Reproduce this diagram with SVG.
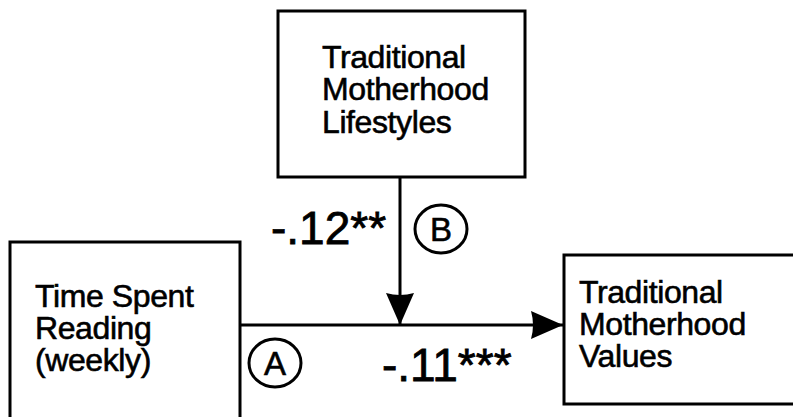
<svg xmlns="http://www.w3.org/2000/svg" width="793" height="417" viewBox="0 0 793 417">
  <style>
    .box { fill: #ffffff; stroke: #000000; stroke-width: 3; }
    .lbl { font-family: "Liberation Sans", Arial, sans-serif; font-size: 32px; letter-spacing: -0.4px; fill: #000000; stroke: #000000; stroke-width: 0.6; }
    .coef { font-family: "Liberation Sans", Arial, sans-serif; font-size: 46px; fill: #000000; stroke: #000000; stroke-width: 0.8; }
    .tag { font-family: "Liberation Sans", Arial, sans-serif; font-size: 33px; fill: #000000; stroke: #000000; stroke-width: 0.6; text-anchor: middle; }
    .ring { fill: none; stroke: #000000; stroke-width: 3; }
    .wire { fill: none; stroke: #000000; stroke-width: 3; }
  </style>
  <defs>
    <marker id="head" viewBox="0 0 32 28" refX="32" refY="14" markerWidth="32" markerHeight="28" markerUnits="userSpaceOnUse" orient="auto">
      <path d="M0,0 L32,14 L0,28 Q4,14 0,0 Z" fill="#000000"/>
    </marker>
  </defs>

  <rect width="793" height="417" fill="#ffffff"/>

  <!-- connectors -->
  <g id="connectors">
    <line class="wire" x1="240" y1="325" x2="563" y2="325" marker-end="url(#head)"/>
    <line class="wire" x1="400" y1="177" x2="400" y2="325" marker-end="url(#head)"/>
    <text class="coef" x="271" y="244">-.12**</text>
    <text class="coef" x="382" y="381">-.11***</text>
    <g id="tag-b">
      <ellipse class="ring" cx="441" cy="229" rx="26" ry="24"/>
      <text class="tag" x="441" y="241">B</text>
    </g>
    <g id="tag-a">
      <ellipse class="ring" cx="275" cy="363" rx="26" ry="24"/>
      <text class="tag" x="275" y="375">A</text>
    </g>
  </g>

  <!-- nodes -->
  <g id="node-lifestyles">
    <rect class="box" x="278" y="11" width="247" height="166"/>
    <text class="lbl" x="322" y="68">Traditional<tspan x="322" dy="32">Motherhood</tspan><tspan x="322" dy="33">Lifestyles</tspan></text>
  </g>

  <g id="node-reading">
    <rect class="box" x="10" y="242" width="230" height="190"/>
    <text class="lbl" x="35" y="307">Time Spent<tspan x="35" dy="32">Reading</tspan><tspan x="35" dy="32">(weekly)</tspan></text>
  </g>

  <g id="node-values">
    <rect class="box" x="564" y="255" width="240" height="149"/>
    <text class="lbl" x="579" y="303">Traditional<tspan x="579" dy="32">Motherhood</tspan><tspan x="579" dy="32">Values</tspan></text>
  </g>
</svg>
